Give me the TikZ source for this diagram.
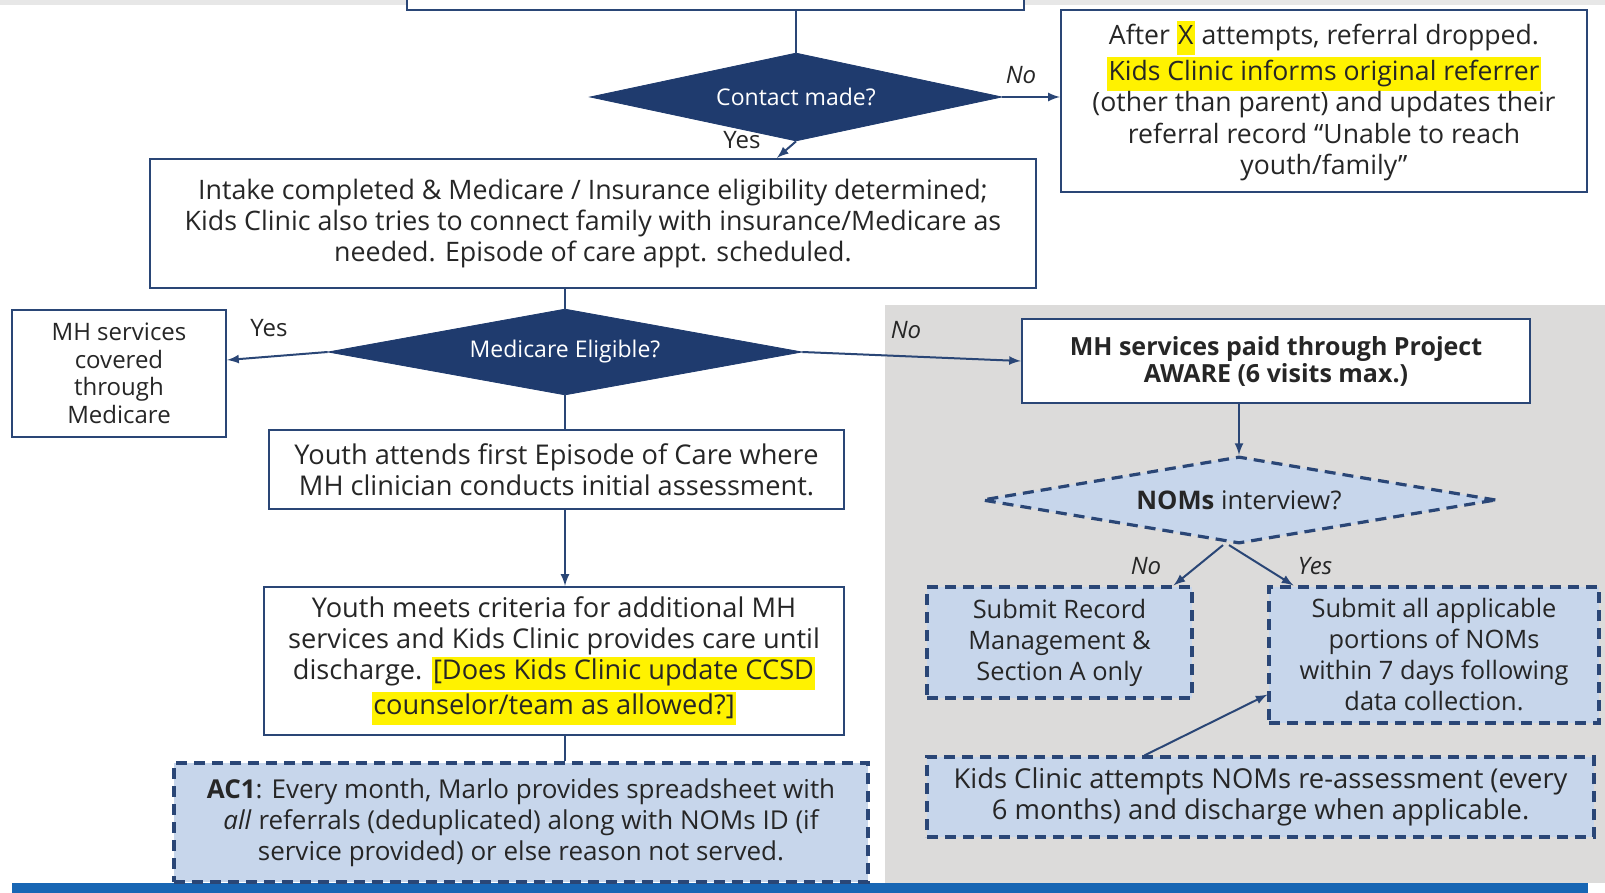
\documentclass[tikz,border=0pt]{standalone}
\usepackage{fontspec}
\setmainfont{Open Sans}
\usepackage{tikz}
\usetikzlibrary{arrows,shapes.geometric,calc}
\definecolor{navy}{HTML}{1F3B6E}
\definecolor{navyline}{HTML}{2A4676}
\definecolor{lightblue}{HTML}{C7D6EB}
\definecolor{panelgray}{HTML}{DCDBDA}
\definecolor{topgray}{HTML}{E7E7E7}
\definecolor{barblue}{HTML}{1866B4}
\definecolor{textgray}{HTML}{262626}
\newcommand{\hilite}[1]{{\setlength{\fboxsep}{0.6pt}\colorbox{yellow}{\strut #1}}}
\tikzstyle{box}=[rectangle, draw=navyline, line width=1.2pt, fill=white, align=center, inner sep=0pt, text=textgray, font=\fontsize{13.4}{15.5}\selectfont]
\tikzstyle{dashbox}=[box, fill=lightblue, dash pattern=on 5.5pt off 3.5pt, line width=1.6pt, font=\fontsize{12.7}{15.5}\selectfont]
\tikzstyle{decision}=[diamond, aspect=5, draw=navy, fill=navy, inner sep=0pt, text=white, align=center, font=\fontsize{11.5}{14}\selectfont]
\tikzstyle{dashdecision}=[diamond, aspect=5, draw=navyline, fill=lightblue, dash pattern=on 5.5pt off 3.5pt, line width=1.6pt, inner sep=0pt, text=textgray, font=\fontsize{12.8}{14}\selectfont]
\tikzstyle{edge}=[draw=navyline, line width=1pt, >=latex]
\tikzstyle{lbl}=[text=textgray, inner sep=0pt, font=\fontsize{12}{14}\selectfont]
\begin{document}
\begin{tikzpicture}[x=0.5pt, y=-0.5pt]
      \useasboundingbox (0,0) rectangle (1605,893);
      \fill[topgray] (0,0) rectangle (1605,5);
      \fill[panelgray] (885,305) rectangle (1605,883);
      \fill[barblue] (12,883) rectangle (1588,893);
      \node(top) [box, minimum width=308.5pt, minimum height=25pt] at (715.5, -15){};
      \node(contact) [decision, minimum width=206pt, minimum height=44pt] at (796, 97){Contact made?};
      \node(drop) [box, minimum width=263pt, minimum height=91pt, font=\fontsize{13.3}{15.8}\selectfont] at (1324, 101){After \hilite{X} attempts, referral dropped.\\ \hilite{Kids Clinic informs original referrer}\\ (other than parent) and updates their\\ referral record “Unable to reach\\ youth/family”};
      \node(intake) [box, minimum width=443pt, minimum height=64.5pt] at (593, 223.5){Intake completed \& Medicare / Insurance eligibility determined;\\ Kids Clinic also tries to connect family with insurance/Medicare as\\ needed. Episode of care appt. scheduled.};
      \node(medicare) [decision, minimum width=237pt, minimum height=43pt] at (565, 352){Medicare Eligible?};
      \node(covered) [box, minimum width=107pt, minimum height=63.5pt, font=\fontsize{12}{13.8}\selectfont] at (119, 373.5){MH services\\ covered\\ through\\ Medicare};
      \node(aware) [box, minimum width=254pt, minimum height=42pt, font=\fontsize{12.5}{13.5}\bfseries] at (1276, 361){MH services paid through Project\\ AWARE (6 visits max.)};
      \node(nom) [dashdecision, minimum width=257pt, minimum height=43.5pt] at (1239, 500){\textbf{NOMs} interview?};
      \node(subrec) [dashbox, minimum width=132.5pt, minimum height=55.5pt] at (1059.5, 642.5){Submit Record\\ Management \&\\ Section A only};
      \node(suball) [dashbox, minimum width=165pt, minimum height=68pt] at (1434, 655){Submit all applicable\\ portions of NOMs\\ within 7 days following\\ data collection.};
      \node(reassess) [dashbox, minimum width=333.5pt, minimum height=40pt, font=\fontsize{13.7}{15.5}\selectfont] at (1260.5, 797){Kids Clinic attempts NOMs re-assessment (every\\ 6 months) and discharge when applicable.};
      \node(attends) [box, minimum width=287.5pt, minimum height=39.5pt, font=\fontsize{13.6}{15.5}\selectfont] at (556.5, 469.5){Youth attends first Episode of Care where\\ MH clinician conducts initial assessment.};
      \node(meets) [box, minimum width=290pt, minimum height=74pt, font=\fontsize{13.6}{15.5}\selectfont] at (554, 661){Youth meets criteria for additional MH\\ services and Kids Clinic provides care until\\ discharge. \hilite{[Does Kids Clinic update CCSD}\\ \hilite{counselor/team as allowed?]}};
      \node(ac) [dashbox, minimum width=347pt, minimum height=59.5pt, font=\fontsize{13}{15.5}\selectfont] at (521, 822.5){\textbf{AC1}: Every month, Marlo provides spreadsheet with\\ \textit{all} referrals (deduplicated) along with NOMs ID (if\\ service provided) or else reason not served.};
      \node(noA) [lbl, font=\fontsize{12}{14}\itshape] at (1021, 75){No};
      \node(yesA) [lbl] at (742, 140){Yes};
      \node(yesB) [lbl] at (269, 328){Yes};
      \node(noB) [lbl, font=\fontsize{12}{14}\itshape] at (906, 330){No};
      \node(noC) [lbl, font=\fontsize{12}{14}\itshape] at (1146, 566){No};
      \node(yesC) [lbl, font=\fontsize{12}{14}\itshape] at (1315, 566){Yes};
      \draw[edge] (contact.north |- top.south) to (contact.north);
      \draw[edge, ->] (contact.east) to (contact.east -| drop.west);
      \draw[edge, ->] (contact.south) to ([xshift=-9.5pt]contact.south |- intake.north);
      \draw[edge] (medicare.north |- intake.south) to (medicare.north);
      \draw[edge, ->] (medicare.west) to ([yshift=6.75pt]covered.east);
      \draw[edge, ->] (medicare.east) to (aware.west);
      \draw[edge, ->] (nom.north |- aware.south) to (nom.north);
      \draw[edge, ->] ([xshift=-8pt]nom.south) to ([xshift=-10pt]subrec.north east);
      \draw[edge, ->] ([xshift=-5pt]nom.south) to ([xshift=13pt]suball.north west);
      \draw[edge, ->] ([xshift=-58pt]reassess.north) to ([yshift=15pt]suball.south west);
      \draw[edge] (medicare.south) to (medicare.south |- attends.north);
      \draw[edge, ->] (medicare.south |- attends.south) to (medicare.south |- meets.north);
      \draw[edge] (medicare.south |- meets.south) to (medicare.south |- ac.north);
    \end{tikzpicture}
\end{document}
